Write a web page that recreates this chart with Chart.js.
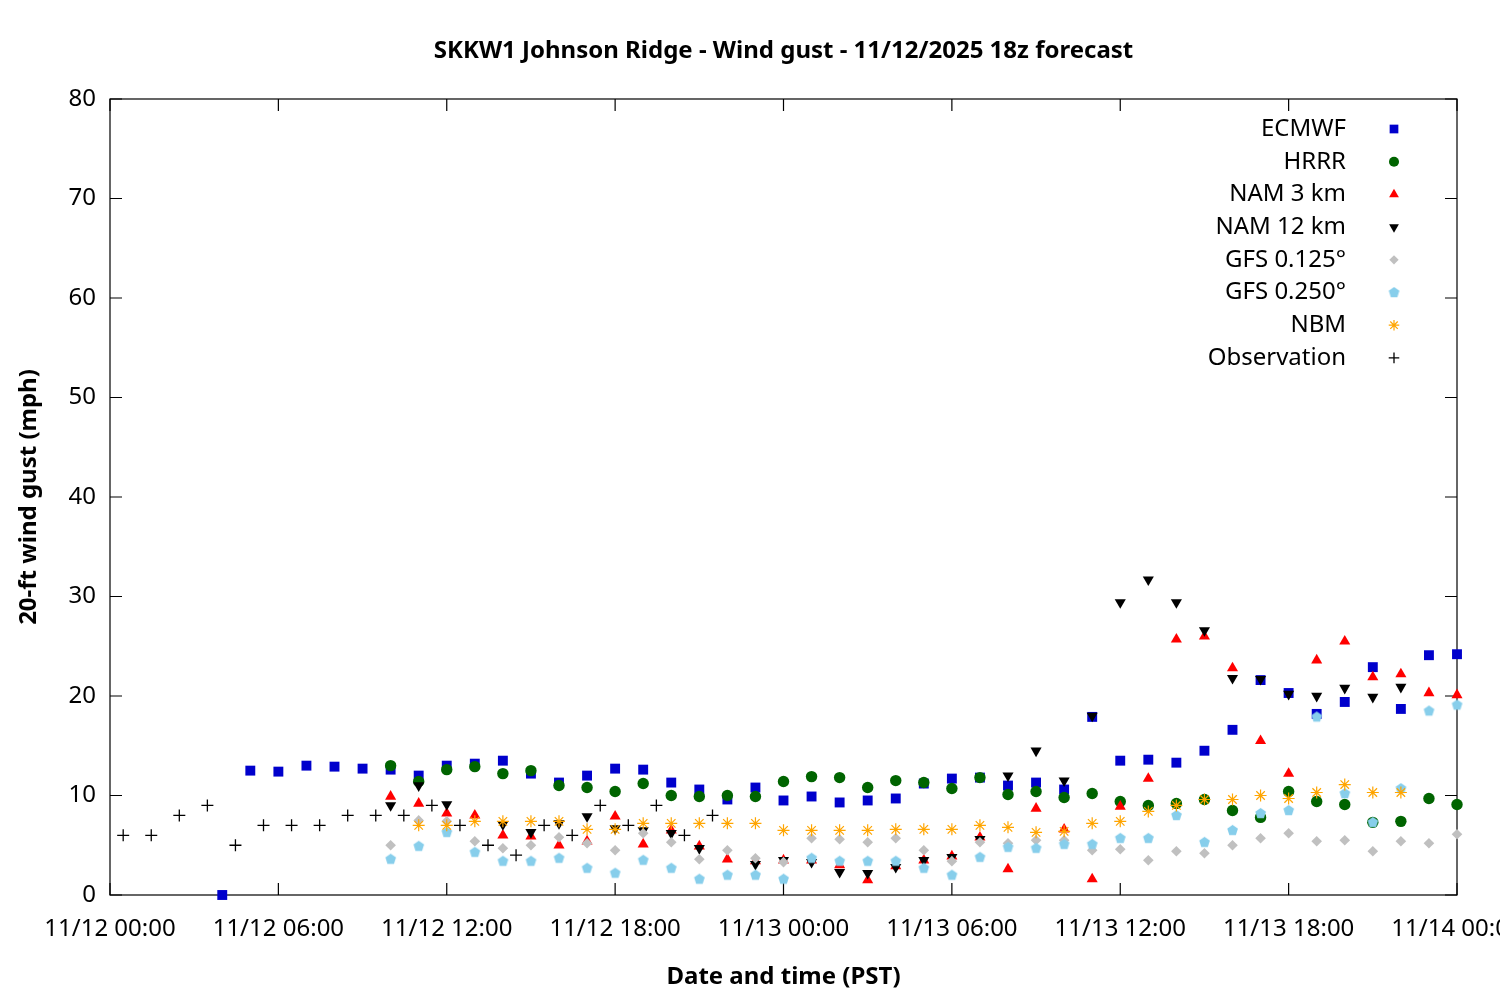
<!DOCTYPE html>
<html>
<head>
<meta charset="utf-8">
<script src="https://cdn.jsdelivr.net/npm/chart.js@4.4.1/dist/chart.umd.min.js"></script>
<style>
  body { margin: 0; background: #fff; }
  #wrap { width: 1500px; height: 1000px; }
</style>
</head>
<body>
<div id="wrap"><canvas id="gustChart" width="1500" height="1000"></canvas></div>
<script>
// hours since 11/12 00:00 PST
const hours = [0, 1, 2, 3, 4, 5, 6, 7, 8, 9, 10, 11, 12, 13, 14, 15, 16, 17, 18, 19, 20, 21, 22, 23, 24,
    25, 26, 27, 28, 29, 30, 31, 32, 33, 34, 35, 36, 37, 38, 39, 40, 41, 42, 43, 44, 45, 46, 47, 48];

const ecmwf = [null, null, null, null, 0, 12.5, 12.4, 13.0, 12.9, 12.7, 12.6, 12.0, 13.0, 13.2, 13.5, 12.2,
    11.3, 12.0, 12.7, 12.6, 11.3, 10.6, 9.6, 10.8, 9.5, 9.9, 9.3, 9.5, 9.7, 11.2, 11.7, 11.8, 11.0, 11.3,
    10.6, 17.9, 13.5, 13.6, 13.3, 14.5, 16.6, 21.6, 20.3, 18.2, 19.4, 22.9, 18.7, 24.1, 24.2];
const hrrr = [null, null, null, null, null, null, null, null, null, null, 13.0, 11.4, 12.6, 12.9, 12.2, 12.5,
    11.0, 10.8, 10.4, 11.2, 10.0, 9.9, 10.0, 9.9, 11.4, 11.9, 11.8, 10.8, 11.5, 11.3, 10.7, 11.8, 10.1, 10.4,
    9.8, 10.2, 9.4, 9.0, 9.2, 9.6, 8.5, 7.8, 10.4, 9.4, 9.1, 7.3, 7.4, 9.7, 9.1];
const nam3 = [null, null, null, null, null, null, null, null, null, null, 9.9, 9.2, 8.2, 8.0, 6.0, 5.9,
    5.0, 5.4, 7.9, 5.1, 6.5, 4.9, 3.6, 3.4, 3.5, 3.5, 3.0, 1.5, 2.9, 3.5, 3.9, 5.8, 2.6, 8.7,
    6.6, 1.6, 8.9, 11.7, 25.7, 26.0, 22.8, 15.5, 12.2, 23.6, 25.5, 21.9, 22.2, 20.3, 20.1];
const nam12 = [null, null, null, null, null, null, null, null, null, null, 9.0, 11.0, 9.1, null, 7.1, 6.3,
    7.2, 7.9, 6.7, 6.5, 6.2, 4.7, null, 3.1, 3.5, 3.3, 2.3, 2.2, 2.8, 3.5, 3.8, 5.6, 12.0, 14.5,
    11.5, 18.0, 29.4, 31.7, 29.4, 26.6, 21.8, 21.7, 20.2, 20.0, 20.8, 19.9, 20.9, null, null];
const gfs125 = [null, null, null, null, null, null, null, null, null, null, 5.0, 7.5, 7.4, 5.4, 4.7, 5.0,
    5.8, 5.2, 4.5, 6.2, 5.3, 3.6, 4.5, 3.7, 3.3, 5.7, 5.6, 5.3, 5.7, 4.5, 3.4, 5.3, 5.2, 5.5,
    5.5, 4.5, 4.6, 3.5, 4.4, 4.2, 5.0, 5.7, 6.2, 5.4, 5.5, 4.4, 5.4, 5.2, 6.1];
const gfs250 = [null, null, null, null, null, null, null, null, null, null, 3.6, 4.9, 6.3, 4.3, 3.4, 3.4,
    3.7, 2.7, 2.2, 3.5, 2.7, 1.6, 2.0, 2.0, 1.6, 3.7, 3.4, 3.4, 3.4, 2.7, 2.0, 3.8, 4.8, 4.7,
    5.1, 5.1, 5.7, 5.7, 8.0, 5.3, 6.5, 8.2, 8.5, 17.9, 10.2, 7.3, 10.7, 18.5, 19.1];
const nbm = [null, null, null, null, null, null, null, null, null, null, null, 7.0, 7.0, 7.4, 7.4, 7.4,
    7.4, 6.6, 6.6, 7.2, 7.2, 7.2, 7.2, 7.2, 6.5, 6.5, 6.5, 6.5, 6.6, 6.6, 6.6, 7.0, 6.8, 6.3,
    6.4, 7.2, 7.4, 8.4, 9.0, 9.6, 9.6, 10.0, 9.7, 10.3, 11.1, 10.3, 10.3, null, null];

// observations come in at about 28 past the hour
const obsHours = [0.47, 1.47, 2.47, 3.47, 4.47, 5.47, 6.47, 7.47, 8.47, 9.47, 10.47,
    11.47, 12.47, 13.47, 14.47, 15.47, 16.47, 17.47, 18.47, 19.47, 20.47, 21.47];
const obs = [6, 6, 8, 9, 5, 7, 7, 7, 8, 8, 8, 9, 7, 5, 4, 7, 6, 9, 7, 9, 6, 8];

const xTickLabels = ["11/12 00:00", "11/12 06:00", "11/12 12:00", "11/12 18:00", "11/13 00:00",
    "11/13 06:00", "11/13 12:00", "11/13 18:00", "11/14 00:00"];

const FONT = "'Noto Sans', 'DejaVu Sans', sans-serif";

function pentagon(color, r) {
    const c = document.createElement('canvas');
    c.width = c.height = 2 * r + 2;
    const g = c.getContext('2d');
    g.fillStyle = color;
    g.beginPath();
    for (let i = 0; i < 5; i++) {
        const a = -Math.PI / 2 + i * 2 * Math.PI / 5;
        g.lineTo(r + 1 + r * Math.cos(a), r + 1 + r * Math.sin(a));
    }
    g.closePath();
    g.fill();
    return c;
}

const pairs = (xs, ys) => xs.map((x, i) => ({x: x, y: ys[i]})).filter(p => p.y !== null);

// gnuplot draws later series on top, so later datasets get a lower order
const series = [
    {label: "ECMWF", data: pairs(hours, ecmwf), pointStyle: 'rect', pointRadius: 7, color: '#0000cc'},
    {label: "HRRR", data: pairs(hours, hrrr), pointStyle: 'circle', pointRadius: 5.7, color: '#006400'},
    {label: "NAM 3 km", data: pairs(hours, nam3), pointStyle: 'triangle', pointRadius: 6.4, color: '#ff0000'},
    {label: "NAM 12 km", data: pairs(hours, nam12), pointStyle: 'triangle', pointRotation: 180, pointRadius: 6.4, color: '#000000'},
    {label: "GFS 0.125°", data: pairs(hours, gfs125), pointStyle: 'rectRot', pointRadius: 5.3, color: '#c0c0c0'},
    {label: "GFS 0.250°", data: pairs(hours, gfs250), pointStyle: pentagon('#87ceeb', 5.6), pointRadius: 5.6, color: '#87ceeb'},
    {label: "NBM", data: pairs(hours, nbm), pointStyle: 'star', pointRadius: 6, color: '#ffa500', line: 1.2},
    {label: "Observation", data: pairs(obsHours, obs), pointStyle: 'cross', pointRadius: 6, color: '#000000', line: 1.3}
];

const datasets = series.map((s, i) => ({
    label: s.label,
    data: s.data,
    pointStyle: s.pointStyle,
    pointRadius: s.pointRadius,
    pointHoverRadius: s.pointRadius,
    pointRotation: s.pointRotation || 0,
    backgroundColor: s.color,
    borderColor: s.color,
    borderWidth: s.line || 0,
    showLine: false,
    clip: false,
    order: series.length - i
}));

// border box, inward ticks on all four sides, title and the key
const framePlugin = {
    id: 'frame',
    beforeDatasetsDraw(chart) {
        const {ctx, chartArea: a, scales} = chart;
        ctx.save();
        ctx.strokeStyle = '#000';
        ctx.lineWidth = 1.2;
        ctx.strokeRect(a.left, a.top, a.right - a.left, a.bottom - a.top);
        ctx.beginPath();
        scales.x.ticks.forEach(t => {
            const px = scales.x.getPixelForValue(t.value);
            ctx.moveTo(px, a.bottom); ctx.lineTo(px, a.bottom - 12);
            ctx.moveTo(px, a.top); ctx.lineTo(px, a.top + 12);
        });
        scales.y.ticks.forEach(t => {
            const py = scales.y.getPixelForValue(t.value);
            ctx.moveTo(a.left, py); ctx.lineTo(a.left + 12, py);
            ctx.moveTo(a.right, py); ctx.lineTo(a.right - 12, py);
        });
        ctx.stroke();
        ctx.restore();
    },
    afterDraw(chart) {
        const {ctx, chartArea: a} = chart;
        ctx.save();
        ctx.fillStyle = '#000';
        ctx.font = "bold 24px " + FONT;
        ctx.textAlign = 'center';
        ctx.textBaseline = 'middle';
        ctx.fillText("SKKW1 Johnson Ridge - Wind gust - 11/12/2025 18z forecast", (a.left + a.right) / 2, 51);

        ctx.font = "24px " + FONT;
        ctx.textAlign = 'right';
        chart.data.datasets.forEach((ds, i) => {
            const y = 129 + i * 32.7;
            ctx.fillStyle = '#000';
            ctx.fillText(ds.label, 1346, y);
            ctx.fillStyle = ds.backgroundColor;
            ctx.strokeStyle = ds.borderColor;
            ctx.lineWidth = ds.borderWidth;
            if (typeof ds.pointStyle === 'string') {
                Chart.helpers.drawPoint(ctx, {
                    pointStyle: ds.pointStyle,
                    radius: ds.pointRadius * 0.88,
                    rotation: ds.pointRotation,
                    borderWidth: ds.borderWidth
                }, 1394, y);
            } else {
                ctx.drawImage(ds.pointStyle, 1394 - ds.pointStyle.width / 2, y - ds.pointStyle.height / 2);
            }
        });
        ctx.restore();
    }
};

Chart.defaults.color = '#000';
Chart.defaults.font.family = FONT;
Chart.defaults.font.size = 24;

new Chart(document.getElementById('gustChart'), {
    type: 'scatter',
    data: {datasets: datasets},
    options: {
        responsive: false,
        animation: false,
        layout: {padding: {top: 99, right: 43, bottom: 0, left: 0}},
        plugins: {
            legend: {display: false},
            title: {display: false},
            tooltip: {enabled: false}
        },
        scales: {
            x: {
                type: 'linear',
                min: 0,
                max: 48,
                grid: {display: false, drawTicks: false},
                border: {display: false},
                ticks: {
                    stepSize: 6,
                    autoSkip: false,
                    maxRotation: 0,
                    padding: 20,
                    callback: (v) => xTickLabels[v / 6]
                },
                title: {
                    display: true,
                    text: "Date and time (PST)",
                    font: {weight: 'bold', size: 24},
                    padding: {top: 0, bottom: 8}
                },
                afterFit: (scale) => {
                    scale.height = 105;
                    scale.paddingLeft = 0;
                    scale.paddingRight = 0;
                }
            },
            y: {
                min: 0,
                max: 80,
                grid: {display: false, drawTicks: false},
                border: {display: false},
                ticks: {stepSize: 10, padding: 14},
                title: {
                    display: true,
                    text: "20-ft wind gust (mph)",
                    font: {weight: 'bold', size: 24},
                    padding: {top: 15, bottom: 0}
                },
                afterFit: (scale) => {
                    scale.width = 110;
                    scale.paddingTop = 0;
                    scale.paddingBottom = 0;
                }
            }
        }
    },
    plugins: [framePlugin]
});
</script>
</body>
</html>
